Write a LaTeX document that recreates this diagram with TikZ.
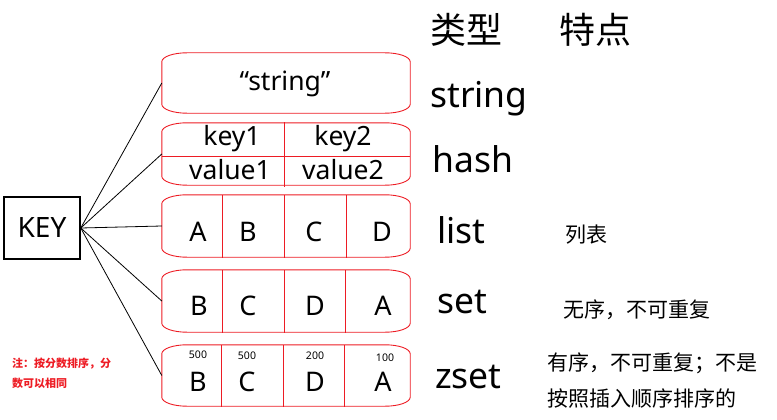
\documentclass[tikz,border=0pt]{standalone}
\usepackage{fontspec}
\setmainfont{Noto Sans}
\newfontfamily\cjk{Noto Sans CJK SC}
\usetikzlibrary{calc}
\definecolor{boxred}{RGB}{237,28,36}
\tikzset{
  boxline/.style={draw=boxred,line width=0.9pt},
  area/.style={draw=none,inner sep=0pt,minimum width=248pt},
  big/.style={font=\fontsize{27}{27}\selectfont},
  med/.style={font=\fontsize{26.5}{26.5}\selectfont},
  tiny/.style={font=\fontsize{10.5}{10.5}\selectfont},
  typ/.style={font=\fontsize{35.5}{35.5}\selectfont,anchor=base west,inner sep=0pt},
  head/.style={font=\cjk\fontsize{36}{36}\selectfont},
  feat/.style={font=\cjk\fontsize{21}{21}\selectfont,anchor=west,inner sep=0pt},
  note/.style={font=\cjk\bfseries\fontsize{11}{11}\selectfont,text=boxred,anchor=west,inner sep=0pt},
  conn/.style={draw=black,line width=0.8pt},
}
\newcommand\barrelbox[1]{%
  \draw[boxline] ([xshift=25pt]#1.north west) -- ([xshift=-25pt]#1.north east)
   arc[start angle=90,end angle=0,x radius=25pt,y radius=9pt]
   -- ([yshift=9pt]#1.south east)
   arc[start angle=0,end angle=-90,x radius=25pt,y radius=9pt]
   -- ([xshift=25pt]#1.south west)
   arc[start angle=270,end angle=180,x radius=25pt,y radius=9pt]
   -- ([yshift=-9pt]#1.north west)
   arc[start angle=180,end angle=90,x radius=25pt,y radius=9pt] -- cycle;}
\begin{document}
\begin{tikzpicture}[x=1pt,y=-1pt]
\useasboundingbox (0,0) rectangle (777,420);
% box areas
\node[area,minimum height=60pt] (bstr) at (286,83) {};
\node[area,minimum height=62pt] (bhash) at (286,154) {};
\node[area,minimum height=62pt] (blist) at (286,226) {};
\node[area,minimum height=62pt] (bset) at (286,301) {};
\node[area,minimum height=61pt] (bzset) at (286,375.5) {};
\foreach \b in {bstr,bhash,blist,bset,bzset} {\barrelbox{\b}}
% dividers
\draw[boxline] (284,122) -- (284,187);
\draw[boxline] (162,156) -- (410,156);
\foreach \x in {222,284,346} \draw[boxline] (\x,195) -- (\x,258);
\foreach \x in {222,284,345} \draw[boxline] (\x,270) -- (\x,333);
\foreach \x in {221,283,344} \draw[boxline] (\x,345) -- (\x,407);
% box texts
\node[med] (tstr) at (285,84) {“string”};
\node[med] (k1) at (232,139) {key1};
\node[med] (k2) at (343,139) {key2};
\node[med] (v1) at (230,170) {value1};
\node[med] (v2) at (343,170) {value2};
\node[big] (la) at (198,232) {A};
\node[big] (lb) at (248,232) {B};
\node[big] (lc) at (314,232) {C};
\node[big] (ld) at (382,232) {D};
\node[big] (sb) at (199,306) {B};
\node[big] (sc) at (248,306) {C};
\node[big] (sd) at (315,306) {D};
\node[big] (sa) at (383,306) {A};
\node[big] (zb) at (198,382) {B};
\node[big] (zc) at (247,382) {C};
\node[big] (zd) at (315,382) {D};
\node[big] (za) at (383,382) {A};
\node[tiny] (n1) at (198,355) {500};
\node[tiny] (n2) at (247,356) {500};
\node[tiny] (n3) at (315,356) {200};
\node[tiny] (n4) at (385,358) {100};
% KEY
\node[draw=black,line width=1.5pt,minimum width=76pt,minimum height=62pt,inner sep=0pt,font=\fontsize{28}{28}\selectfont] (key) at (42,228) {KEY};
\foreach \b in {bstr,bhash,blist,bset,bzset} \draw[conn] (key.east) -- (\b.west);
% note
\node[note] (note1) at (12,364) {注：按分数排序，分};
\node[note] (note2) at (12,383) {数可以相同};
% right column
\node[head] (h1) at (466,30) {类型};
\node[head] (h2) at (595,30) {特点};
\node[typ] (tstring) at (430,107) {string};
\node[typ] (thash) at (432,172) {hash};
\node[typ] (tlist) at (437,243) {list};
\node[typ] (tset) at (437,313) {set};
\node[typ] (tzset) at (435,388) {zset};
\node[feat] (f1) at (565,235) {列表};
\node[feat] (f2) at (563,310) {无序，不可重复};
\node[feat] (f3) at (547,363) {有序，不可重复；不是};
\node[feat] (f4) at (547,399) {按照插入顺序排序的};
\end{tikzpicture}
\end{document}
